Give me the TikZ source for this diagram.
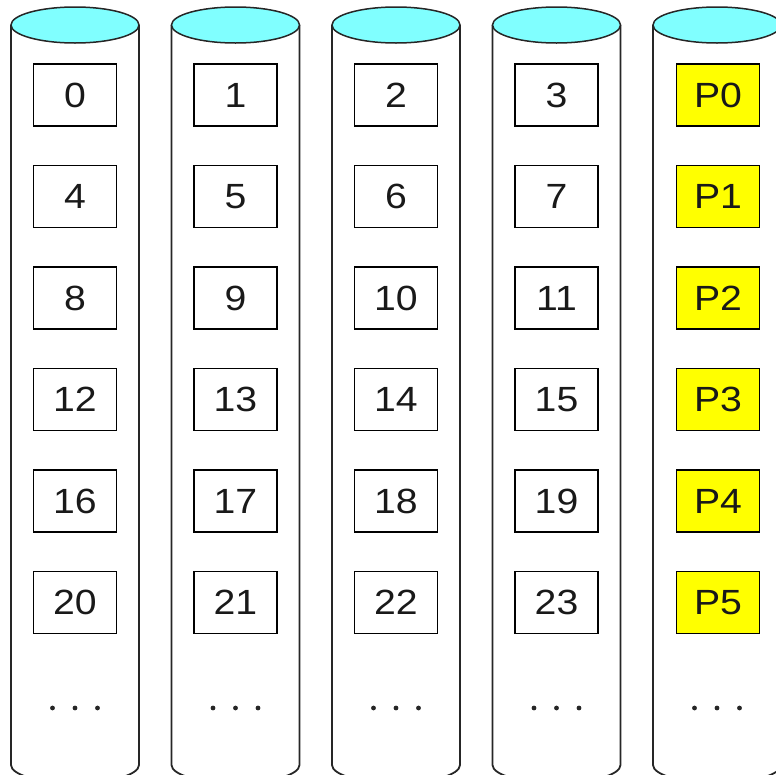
\documentclass[tikz,border=0pt]{standalone}
\usepackage{fontspec}
\setmainfont[FakeStretch=1.12]{Liberation Sans}
\definecolor{diskcyan}{RGB}{128,255,255}
\definecolor{pyellow}{RGB}{255,255,0}
\begin{document}
\begin{tikzpicture}[x=1pt,y=1pt,
  cell/.style={draw=black,line width=1.4pt,minimum width=83pt,minimum height=62pt,inner sep=0pt,font=\fontsize{35}{35}\selectfont,text=black!90},
  pcell/.style={cell,fill=pyellow},
  wall/.style={draw=black!85,line width=1.8pt},
  dotmark/.style={circle,fill=black!85,inner sep=0pt,minimum size=4.8pt}]
\useasboundingbox (0,0) rectangle (776,-774);
\clip (0,0) rectangle (776,-774);
\foreach \c in {0,...,4}{
  \pgfmathsetmacro\L{11+160.5*\c}
  \pgfmathsetmacro\M{\L+64}
  % sides and bottom
  \draw[wall] (\L,-25) -- (\L,-765) arc[start angle=180,end angle=360,x radius=64,y radius=18] -- (\L+128,-25);
  % top
  \draw[wall,fill=diskcyan,line width=1.5pt] (\M,-25) ellipse[x radius=64,y radius=18];
  % boxes
  \foreach \r in {0,...,5}{
    \pgfmathtruncatemacro\n{4*\r+\c}
    \ifnum\c=4
      \node[pcell] (b\c-\r) at (\M+1,-95-101.5*\r) {P\r};
    \else
      \node[cell] (b\c-\r) at (\M,-95-101.5*\r) {\n};
    \fi
  }
  \node[dotmark] (d\c-a) at (\M-22.5,-708) {};
  \node[dotmark] (d\c-b) at (\M,-708) {};
  \node[dotmark] (d\c-c) at (\M+22.5,-708) {};
}
\end{tikzpicture}
\end{document}
